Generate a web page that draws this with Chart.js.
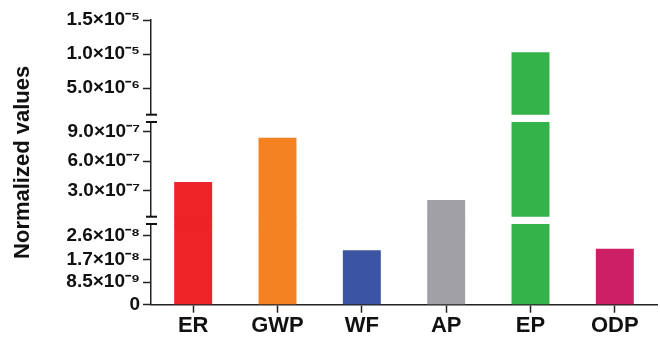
<!DOCTYPE html>
<html>
<head>
<meta charset="utf-8">
<style>
  html, body { margin: 0; padding: 0; background: #fff; }
  #wrap { width: 660px; height: 340px; position: relative; }
</style>
<script src="https://cdn.jsdelivr.net/npm/chart.js@4/dist/chart.umd.min.js"></script>
</head>
<body>
<div id="wrap"><canvas id="c"></canvas></div>
<script>
// ---- data ----
const categories = ['ER', 'GWP', 'WF', 'AP', 'EP', 'ODP'];
const values = [3.89e-7, 8.39e-7, 2.04e-8, 2.05e-7, 1.025e-5, 2.1e-8];
const barColors = ['#ED2327', '#F58220', '#3B54A4', '#A1A0A5', '#33B34A', '#CC1F66'];

// axis segments (broken y axis), bottom to top
const segBottomRange = [0, 3.03e-8];
const segMiddleRange = [3.4e-8, 1.0e-6];
const segTopRange = [1.1e-6, 1.5e-5];

const bottomTicks = [0, 8.5e-9, 1.7e-8, 2.6e-8];
const bottomTickLabels = ['0', '8.5×10⁻⁹', '1.7×10⁻⁸', '2.6×10⁻⁸'];
const middleTicks = [3.0e-7, 6.0e-7, 9.0e-7];
const middleTickLabels = ['3.0×10⁻⁷', '6.0×10⁻⁷', '9.0×10⁻⁷'];
const topTicks = [5.0e-6, 1.0e-5, 1.5e-5];
const topTickLabels = ['5.0×10⁻⁶', '1.0×10⁻⁵', '1.5×10⁻⁵'];

const yTitle = 'Normalized values';

// ---- build ----
const FONT = "'Liberation Sans', Arial, Helvetica, sans-serif";
function segData(range) {
  return values.map(v => v > range[0] ? [range[0], Math.min(v, range[1])] : null);
}
// bars that end inside the middle segment are drawn continuously across the lower break
// (spacer axis runs 0..1; the fill slightly overlaps its neighbours to avoid a seam)
const lowerGapData = values.map(v => (v > segMiddleRange[0] && v <= segMiddleRange[1]) ? [-0.1, 1.1] : null);

function segAxis(range, ticks, labels, weight) {
  return {
    type: 'linear', position: 'left', stack: 'ybroken', stackWeight: weight,
    min: range[0], max: range[1],
    afterBuildTicks: s => { s.ticks = ticks.map(v => ({ value: v })); },
    afterFit: s => { s.width = 121; },
    ticks: {
      color: '#111', font: { family: FONT, size: 19, weight: 'bold' }, padding: 3,
      autoSkip: false,
      callback: (v, i) => labels[i]
    },
    grid: { drawOnChartArea: false, drawTicks: true, tickLength: 8, tickWidth: 1.5, tickColor: '#222' },
    border: { display: true, color: '#222', width: 1.5 }
  };
}
function gapAxis(weight) {
  return {
    type: 'linear', position: 'left', stack: 'ybroken', stackWeight: weight, display: false,
    min: 0, max: 1
  };
}

const breakMarks = {
  id: 'breakMarks',
  afterDraw(chart) {
    const ctx = chart.ctx;
    const s1 = chart.scales.yTop, s2 = chart.scales.yMid, s3 = chart.scales.yBot;
    const x = s1.right;
    ctx.save();
    ctx.strokeStyle = '#111';
    ctx.lineWidth = 2;
    [s1.bottom, s2.top, s2.bottom, s3.top].forEach(y => {
      ctx.beginPath();
      ctx.moveTo(x - 5, y);
      ctx.lineTo(x + 6, y);
      ctx.stroke();
    });
    ctx.restore();
  }
};

const dsCommon = {
  backgroundColor: barColors, borderWidth: 0, grouped: false, clip: false,
  categoryPercentage: 1.0, barPercentage: 0.45, borderSkipped: false
};

new Chart(document.getElementById('c'), {
  type: 'bar',
  data: {
    labels: categories,
    datasets: [
      Object.assign({ data: segData(segTopRange), yAxisID: 'yTop' }, dsCommon),
      Object.assign({ data: segData(segMiddleRange), yAxisID: 'yMid' }, dsCommon),
      Object.assign({ data: lowerGapData, yAxisID: 'gap2' }, dsCommon),
      Object.assign({ data: segData(segBottomRange), yAxisID: 'yBot' }, dsCommon)
    ]
  },
  options: {
    responsive: true, maintainAspectRatio: false, animation: false,
    layout: { padding: { top: 20, right: 3, bottom: 0, left: 0 } },
    plugins: { legend: { display: false }, tooltip: { enabled: false } },
    scales: {
      x: {
        type: 'category', position: 'bottom',
        ticks: { color: '#111', font: { family: FONT, size: 22, weight: 'bold', lineHeight: 1.15 }, padding: 1 },
        grid: { offset: false, drawOnChartArea: false, tickLength: 8, tickWidth: 1.5, tickColor: '#222' },
        border: { color: '#222', width: 1.5 }
      },
      yBot: segAxis(segBottomRange, bottomTicks, bottomTickLabels, 80.7),
      gap2: gapAxis(7.3),
      yMid: segAxis(segMiddleRange, middleTicks, middleTickLabels, 94.7),
      gap1: gapAxis(7.3),
      yTop: segAxis(segTopRange, topTicks, topTickLabels, 94.7),
      yTitle: {
        type: 'linear', position: 'left', weight: 10, min: 0, max: 1,
        afterFit: s => { s.width = 30; },
        ticks: { display: false },
        grid: { display: false, drawTicks: false },
        border: { display: false },
        title: { display: true, text: yTitle, color: '#111', font: { family: FONT, size: 22, weight: 'bold' }, padding: { top: 10, bottom: 0 } }
      }
    }
  },
  plugins: [breakMarks]
});
</script>
</body>
</html>
